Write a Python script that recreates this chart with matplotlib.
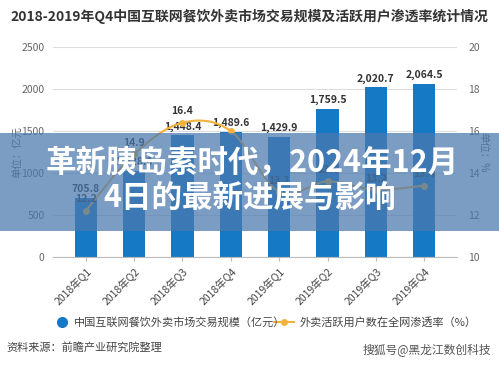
import matplotlib
matplotlib.use('Agg')
import matplotlib.pyplot as plt
from matplotlib.patches import Rectangle, PathPatch
from matplotlib.path import Path
import numpy as np

plt.rcParams['font.family'] = ['Noto Sans CJK SC', 'DejaVu Sans']

quarters = ['2018年Q1', '2018年Q2', '2018年Q3', '2018年Q4',
            '2019年Q1', '2019年Q2', '2019年Q3', '2019年Q4']
scale = [705.8, 1028.6, 1448.4, 1489.6, 1429.9, 1759.5, 2020.7, 2064.5]
rate = [12.2, 14.9, 16.4, 16.0, 13.1, 13.6, 13.2, 13.4]
scale_labels = ['705.8', '1,028.6', '1,448.4', '1,489.6', '1,429.9', '1,759.5', '2,020.7', '2,064.5']
rate_labels = ['12.2', '14.9', '16.4', '', '13.1', '13.6', '13.2', '13.4']

bar_color = '#1679c6'
line_color = '#f2b33d'
grey = '#666666'

fig = plt.figure(figsize=(4.99, 3.65), dpi=100)
ax = fig.add_axes([0.106, 0.296, 0.810, 0.575])
x = np.arange(len(quarters))

ax.bar(x, scale, width=0.46, color=bar_color, zorder=2)
ax.set_ylim(0, 2500)
ax.set_yticks([0, 500, 1000, 1500, 2000, 2500])
ax.set_xlim(-0.68, 7.68)
ax.grid(axis='y', color='#dddddd', linewidth=0.8, zorder=0)
for s in ['top', 'right', 'left']:
    ax.spines[s].set_visible(False)
ax.spines['bottom'].set_color('#bbbbbb')
ax.tick_params(axis='y', length=0, labelsize=7.5, labelcolor=grey, pad=6)
ax.tick_params(axis='x', length=3, color='#bbbbbb', labelsize=7.5, labelcolor='#444444')
ax.set_xticks(x)
ax.set_xticklabels(quarters, rotation=45, ha='right', rotation_mode='anchor')
for xi, v, t in zip(x, scale, scale_labels):
    ax.text(xi, v + 45, t, ha='center', va='bottom', fontsize=7.5,
            fontweight='bold', color='#333333', zorder=5)
ax.set_ylabel('单位：亿元', fontsize=7.5, color=grey, labelpad=-1)

ax2 = ax.twinx()
# smooth curve through the points (Catmull-Rom as cubic Bezier)
pts = np.column_stack([x, rate]).astype(float)
verts = [pts[0]]
codes = [Path.MOVETO]
for i in range(len(pts) - 1):
    p0 = pts[max(i - 1, 0)]
    p1 = pts[i]
    p2 = pts[i + 1]
    p3 = pts[min(i + 2, len(pts) - 1)]
    verts += [p1 + (p2 - p0) / 6, p2 - (p3 - p1) / 6, p2]
    codes += [Path.CURVE4] * 3
ax2.add_patch(PathPatch(Path(verts, codes), facecolor='none', edgecolor=line_color,
                        linewidth=1.5, zorder=4))
ax2.plot(x, rate, linestyle='none', color=line_color, marker='o', markersize=4, zorder=4)
ax2.set_ylim(10, 20)
ax2.set_yticks([10, 12, 14, 16, 18, 20])
for s in ['top', 'right', 'left', 'bottom']:
    ax2.spines[s].set_visible(False)
ax2.tick_params(axis='y', length=0, labelsize=7.5, labelcolor=grey, pad=8)
for xi, v, t in zip(x, rate, rate_labels):
    ax2.text(xi, v + 0.3, t, ha='center', va='bottom', fontsize=7.5,
             fontweight='bold', color='#333333', zorder=5)
ax2.set_ylabel('单位：%', fontsize=7.5, color=grey, rotation=270, labelpad=6)

fig.text(0.5, 0.955, '2018-2019年Q4中国互联网餐饮外卖市场交易规模及活跃用户渗透率统计情况',
         ha='center', va='center', fontsize=10, fontweight='bold', color='#333333')

# legend
fig.lines.append(plt.Line2D([0.124], [0.118], marker='o', markersize=7, color=bar_color,
                            transform=fig.transFigure))
fig.text(0.148, 0.118, '中国互联网餐饮外卖市场交易规模（亿元）', ha='left', va='center',
         fontsize=8, color='#444444')
fig.lines.append(plt.Line2D([0.55, 0.59], [0.118, 0.118], color=line_color, linewidth=1.5,
                            transform=fig.transFigure))
fig.lines.append(plt.Line2D([0.57], [0.118], marker='o', markersize=4, color=line_color,
                            transform=fig.transFigure))
fig.text(0.60, 0.118, '外卖活跃用户数在全网渗透率（%）', ha='left', va='center',
         fontsize=8, color='#444444')

fig.text(0.012, 0.047, '资料来源：前瞻产业研究院整理', ha='left', va='center',
         fontsize=8, color='#444444')
fig.text(0.985, 0.04, '搜狐号@黑龙江数创科技', ha='right', va='center',
         fontsize=8.5, color='#555555')

# translucent banner
fig.patches.append(Rectangle((0, 0.367), 1, 0.268, transform=fig.transFigure,
                             facecolor='#4a78ad', alpha=0.72, edgecolor='none', zorder=10))
fig.text(0.505, 0.553, '革新胰岛素时代，2024年12月', ha='center', va='center',
         fontsize=22, fontweight='bold', color='white', zorder=11)
fig.text(0.5, 0.458, '4日的最新进展与影响', ha='center', va='center',
         fontsize=22, fontweight='bold', color='white', zorder=11)

fig.savefig('out.png', dpi=100)
